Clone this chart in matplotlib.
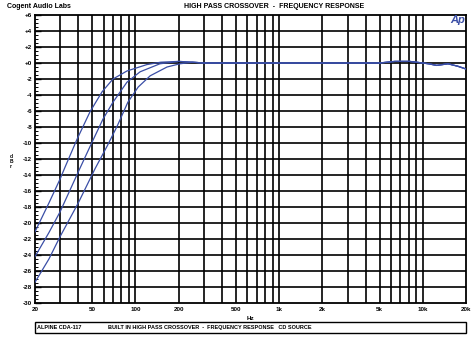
import numpy as np
import matplotlib
matplotlib.use('Agg')
import matplotlib.pyplot as plt
from matplotlib.patches import Rectangle

# three high pass settings (Hz, dBr)
c1_freq = [20, 25, 29.9, 32.4, 39.3, 48.3, 58.6, 69.8, 87.3, 120, 150, 200, 250]
c1_db = [-21.1, -17.5, -14.5, -13.0, -9.5, -6.1, -3.6, -2.0, -1.0, -0.2, 0.1, 0.2, 0.1]
c2_freq = [20, 25, 29.9, 41, 49.9, 59.5, 69.8, 87.3, 107.8, 148, 200, 250]
c2_db = [-24.2, -21.2, -18.6, -13.2, -9.9, -7.0, -4.9, -2.4, -1.1, -0.1, 0.2, 0.1]
c3_freq = [20, 25, 29.9, 40, 52.4, 63.5, 74.6, 88.6, 104.6, 126.7, 166, 204, 250]
c3_db = [-27.4, -24.5, -21.7, -17.5, -13.2, -10.4, -7.9, -4.9, -3.0, -1.6, -0.5, -0.1, 0.1]
# shared flat part above the crossover
tail_freq = [300, 500, 1000, 2000, 5000, 6400, 8100, 9500, 11000, 12500, 15000, 17500, 20000]
tail_db = [0.0, 0.0, 0.0, 0.0, 0.0, 0.2, 0.2, 0.05, -0.1, -0.3, -0.1, -0.4, -0.75]

y_ticks = np.arange(-30, 7, 2)
y_labels = ['%+d' % v if v != 0 else '+0' for v in y_ticks]
x_ticks = [20, 50, 100, 200, 500, 1000, 2000, 5000, 10000, 20000]
x_labels = ['20', '50', '100', '200', '500', '1k', '2k', '5k', '10k', '20k']

blue = '#3a4ea6'
plt.rcParams['font.family'] = ['Liberation Sans', 'DejaVu Sans']

fig = plt.figure(figsize=(4.76, 3.37), dpi=100)
ax = fig.add_axes([35 / 476, 1 - 303 / 337, 431 / 476, 288 / 337])

for f, d in [(c1_freq, c1_db), (c2_freq, c2_db), (c3_freq, c3_db)]:
    ax.plot(list(f) + tail_freq, list(d) + tail_db, color=blue, lw=0.9, zorder=3)

ax.set_xscale('log')
ax.set_xlim(20, 20000)
ax.set_ylim(-30, 6)

# decade grid 20..90, 100..900, ...
vgrid = [m * 10 ** e for e in range(1, 5) for m in range(1, 10)]
vgrid = [v for v in vgrid if 20 < v < 20000]
for v in vgrid:
    ax.axvline(v, color='black', lw=1.2, zorder=1)
for h in y_ticks[1:-1]:
    ax.axhline(h, color='black', lw=1.2, zorder=1)

ax.set_xticks(x_ticks)
ax.set_xticklabels(x_labels, fontsize=4.5, fontweight='bold')
ax.xaxis.set_minor_locator(matplotlib.ticker.NullLocator())
ax.tick_params(axis='x', length=0, pad=3)
ax.set_yticks(y_ticks)
ax.set_yticklabels(y_labels, fontsize=4.5, fontweight='bold')
ax.set_yticks(np.arange(-30, 6.1, 0.5), minor=True)
ax.tick_params(axis='y', which='major', direction='in', length=4, width=1, pad=2)
ax.tick_params(axis='y', which='minor', direction='in', length=2, width=0.7)
for s in ax.spines.values():
    s.set_linewidth(1.3)

fig.text(250 / 476, 1 - 318 / 337, 'Hz', fontsize=4.5, fontweight='bold', ha='center', va='center')
fig.text(11 / 476, 1 - 162 / 337, 'd\nB\nr', fontsize=3.5, fontweight='bold', ha='center', va='center',
         linespacing=1.0)

fig.text(7 / 476, 1 - 6 / 337, 'Cogent Audio Labs', fontsize=5, fontweight='bold', va='center')
fig.text(274 / 476, 1 - 6 / 337, 'HIGH PASS CROSSOVER  -  FREQUENCY RESPONSE', fontsize=5,
         fontweight='bold', ha='center', va='center')
fig.text(458 / 476, 1 - 20 / 337, 'Ap', fontsize=8, fontweight='bold', style='italic', color=blue,
         ha='center', va='center')

fig.patches.append(Rectangle((35 / 476, 1 - 333 / 337), 431 / 476, 11 / 337, transform=fig.transFigure,
                             fill=False, edgecolor='black', lw=1.0))
fig.text(37 / 476, 1 - 327.5 / 337, 'ALPINE CDA-117', fontsize=4, fontweight='bold', va='center')
fig.text(108 / 476, 1 - 327.5 / 337, 'BUILT IN HIGH PASS CROSSOVER  -  FREQUENCY RESPONSE   CD SOURCE',
         fontsize=4, fontweight='bold', va='center')

fig.savefig('out.png', dpi=100)
